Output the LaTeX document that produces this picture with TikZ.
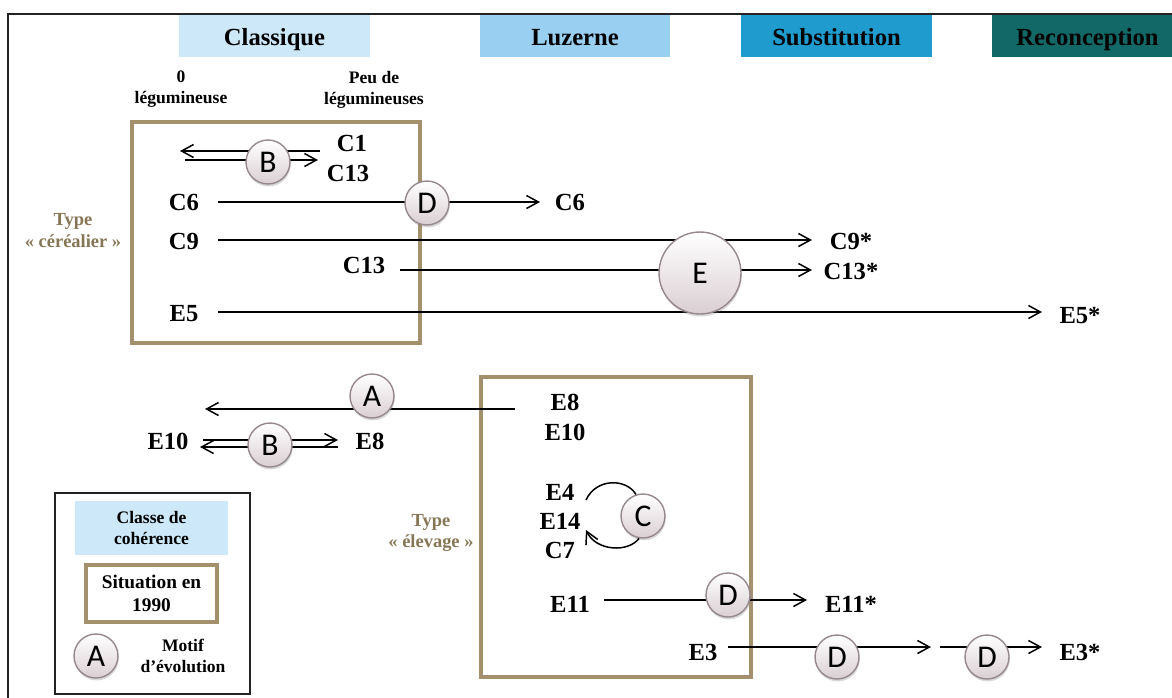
\documentclass[tikz,border=0pt]{standalone}
\usepackage{fontspec}
\setmainfont{Liberation Serif}
\newfontfamily\motiffont{Carlito}
\usetikzlibrary{arrows.meta,shadows}

\definecolor{classique}{RGB}{205,233,249}
\definecolor{luzerne}{RGB}{153,207,240}
\definecolor{substitution}{RGB}{31,155,206}
\definecolor{reconception}{RGB}{18,103,103}
\definecolor{boxbrown}{RGB}{163,144,108}
\definecolor{typebrown}{RGB}{135,118,86}
\definecolor{circedge}{RGB}{150,136,141}
\definecolor{circfill}{RGB}{218,207,211}
\definecolor{framegray}{RGB}{35,35,35}

\tikzset{
  header/.style={minimum width=3.82cm, minimum height=0.84cm, inner sep=0pt,
    text height=13pt, text depth=2pt,
    font=\bfseries\fontsize{14}{16}\selectfont},
  lbl/.style={font=\bfseries\fontsize{14}{16}\selectfont, inner sep=0pt},
  small/.style={font=\bfseries\fontsize{10}{12}\selectfont, align=center, inner sep=0pt},
  typelbl/.style={small, text=typebrown, font=\bfseries\fontsize{10.5}{12.5}\selectfont},
  situation/.style={draw=boxbrown, line width=2pt},
  motif/.style={circle, draw=circedge, line width=0.8pt, top color=white,
    bottom color=circfill, minimum size=0.88cm, inner sep=0pt,
    font=\motiffont\fontsize{18}{18}\selectfont,
    drop shadow={shadow xshift=0.4pt, shadow yshift=-1.4pt, opacity=0.3}},
  bigmotif/.style={motif, minimum size=1.64cm},
  trait/.style={line width=0.85pt},
  evol/.style={trait, -{Straight Barb[length=2.4mm,width=2.6mm]}},
}

\begin{document}
\begin{tikzpicture}[x=0.02cm,y=-0.02cm]
\useasboundingbox (0,0) rectangle (1172,697);

% Frame
\draw[line width=1.7pt, framegray] (8,720) -- (8,14) -- (1190,14);

% Classes de coherence
\node[header, fill=classique] (classique) at (274.5,36) {Classique};
\node[header, fill=luzerne] (luzerne) at (575,36) {Luzerne};
\node[header, fill=substitution] (substitution) at (836.5,36) {Substitution};
\node[header, fill=reconception] (reconception) at (1087.5,36) {Reconception};

\node[small] (zeroleg) at (181,89) {0\\légumineuse};
\node[small] (peuleg) at (374,90) {Peu de\\légumineuses};

% Type cerealier
\draw[situation] (132,122) rectangle (420,343);
\node[typelbl] (typecer) at (73,231) {Type\\« céréalier »};

\node[lbl] (c1) at (352,143) {C1};
\node[lbl] (c13a) at (348,173) {C13};
\node[lbl] (c6) at (184,202) {C6};
\node[lbl] (c9) at (184,241) {C9};
\node[lbl] (c13b) at (364,265) {C13};
\node[lbl] (e5) at (184,314) {E5};
\node[lbl] (c6b) at (570,202) {C6};
\node[lbl] (c9b) at (851,241) {C9*};
\node[lbl] (c13c) at (851,271) {C13*};
\node[lbl] (e5b) at (1080,315) {E5*};

\coordinate (b1g) at (180,151);
\coordinate (b1d) at (320,151);
\coordinate (b2g) at (185,160);
\coordinate (b2d) at (318,160);
\coordinate (c6s) at (218,202);
\coordinate (c6e) at (540,202);
\coordinate (c9s) at (218,240);
\coordinate (c9e) at (812,240);
\coordinate (c13s) at (400,270);
\coordinate (c13e) at (812,270);
\coordinate (e5s) at (218,312);
\coordinate (e5e) at (1042,312);

\draw[evol] (b1d) -- (b1g);
\draw[evol] (b2g) -- (b2d);
\draw[evol] (c6s) -- (c6e);
\draw[evol] (c9s) -- (c9e);
\draw[evol] (c13s) -- (c13e);
\draw[evol] (e5s) -- (e5e);

\node[motif] (bcer) at (268,162) {B};
\node[motif] (dcer) at (427,203) {D};
\node[bigmotif] (ecer) at (700,273) {E};

% Type elevage
\draw[situation] (481,377) rectangle (751,677);
\node[typelbl] (typeelev) at (431,533) {Type\\« élevage »};

\node[lbl] (e8) at (565,402) {E8};
\node[lbl] (e10) at (565,432) {E10};
\node[lbl] (e10b) at (168,441) {E10};
\node[lbl] (e8b) at (370,441) {E8};
\node[lbl] (e4) at (560,492) {E4};
\node[lbl] (e14) at (560,521) {E14};
\node[lbl] (c7) at (560,550) {C7};
\node[lbl] (e11) at (570,604) {E11};
\node[lbl] (e11b) at (851,604) {E11*};
\node[lbl] (e3) at (703,652) {E3};
\node[lbl] (e3b) at (1080,652) {E3*};

\coordinate (as) at (515,409);
\coordinate (ae) at (205,409);
\coordinate (b3g) at (203,440);
\coordinate (b3d) at (338,440);
\coordinate (b4g) at (200,447);
\coordinate (b4d) at (338,447);
\coordinate (e11s) at (604,600);
\coordinate (e11e) at (807,600);
\coordinate (e3s) at (728,647);
\coordinate (e3m) at (931,647);
\coordinate (e3n) at (940,647);
\coordinate (e3e) at (1042,647);

\draw[evol] (as) -- (ae);
\draw[evol] (b3g) -- (b3d);
\draw[evol] (b4d) -- (b4g);
\draw[evol] (e11s) -- (e11e);
\draw[evol] (e3s) -- (e3m);
\draw[evol] (e3n) -- (e3e);

\node[motif] (aelev) at (372,396) {A};
\node[motif] (belev) at (270,445) {B};
\node[motif] (celev) at (643,516) {C};
\node[motif] (delev) at (728,595) {D};
\node[motif] (delev2) at (837,657) {D};
\node[motif] (delev3) at (987,657) {D};

\coordinate (cs) at (586,500);
\coordinate (ce) at (586,530);
\draw[trait] (cs) .. controls (596,478) and (626,478) .. (celev.108);
\draw[evol] (celev.-100) .. controls (628,553) and (596,551) .. (ce);

% Legende
\draw[line width=0.6pt, framegray] (55,493) rectangle (250,694);
\node[small, fill=classique, minimum width=3.06cm, minimum height=1.08cm] (legclasse) at (151.5,528) {Classe de\\cohérence};
\node[small, situation, fill=white, minimum width=2.62cm, minimum height=1.14cm,
  font=\bfseries\fontsize{11}{13}\selectfont] (legsit) at (151.5,593.5) {Situation en\\1990};
\node[motif] (legmotif) at (96,656) {A};
\node[small] (legtxt) at (183,656) {Motif\\d’évolution};

\end{tikzpicture}
\end{document}
